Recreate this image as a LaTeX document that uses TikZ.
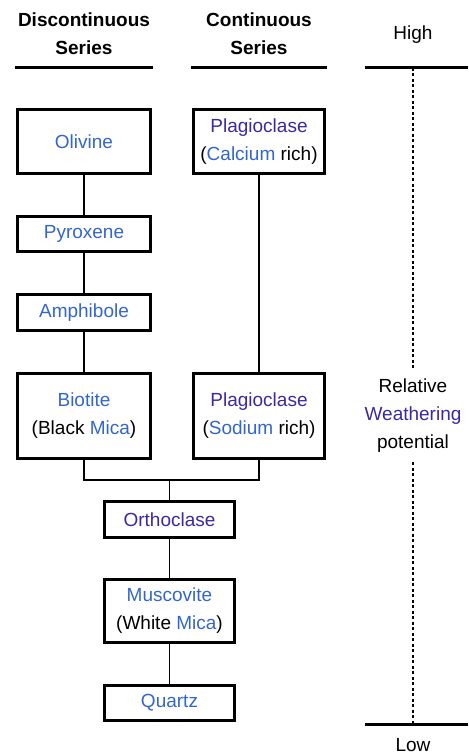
\documentclass[tikz,border=0pt]{standalone}
\usepackage{fontspec}
\setmainfont{Liberation Sans}
\usepackage{xcolor}
\usepackage{tikz}
\definecolor{minblue}{RGB}{51,102,204}
\definecolor{minpurple}{RGB}{60,40,160}
\newcommand{\lk}[1]{\textcolor{minblue}{#1}}
\newcommand{\vk}[1]{\textcolor{minpurple}{#1}}

\begin{document}
\begin{tikzpicture}[
  x=1pt, y=-1pt,
  every node/.style={font=\fontsize{19}{28}\selectfont},
  mineral/.style={draw, line width=3pt, align=center, inner sep=0pt},
  head/.style={font=\fontsize{19}{28}\selectfont\bfseries, align=center, inner sep=0pt},
  link/.style={line width=1.5pt},
  rule/.style={line width=3pt},
  scaleline/.style={line width=1.5pt, dash pattern=on 3pt off 2.5pt}
]
\useasboundingbox (0,0) rectangle (468,754);
\node[head] (discont) at (84,34) {Discontinuous\\Series};
\node[head] (cont) at (259,34) {Continuous\\Series};
\node[inner sep=0pt] (high) at (413,35) {High};
\draw[rule] (15,68) -- (153,68);
\draw[rule] (191,68) -- (327,68);
\draw[rule] (365,68) -- (468,68);
\draw[rule] (365,724) -- (468,724);
\node[mineral, minimum width=133pt, minimum height=64pt] (olivine) at (84,141.5) {\lk{Olivine}};
\node[mineral, minimum width=133pt, minimum height=35pt] (pyroxene) at (84,234) {\lk{Pyroxene}};
\node[mineral, minimum width=133pt, minimum height=36pt] (amphibole) at (84,312.5) {\lk{Amphibole}};
\node[mineral, minimum width=133pt, minimum height=85pt] (biotite) at (84,416) {\lk{Biotite}\\(Black \lk{Mica})};
\node[mineral, minimum width=131pt, minimum height=64pt] (plagca) at (259,141.5) {\vk{Plagioclase}\\(\lk{Calcium} rich)};
\node[mineral, minimum width=131pt, minimum height=85pt] (plagna) at (259,416) {\vk{Plagioclase}\\(\lk{Sodium} rich)};
\node[mineral, minimum width=130pt, minimum height=36pt] (orthoclase) at (169.5,519.5) {\vk{Orthoclase}};
\node[mineral, minimum width=130pt, minimum height=63pt] (muscovite) at (169.5,611) {\lk{Muscovite}\\(White \lk{Mica})};
\node[mineral, minimum width=130pt, minimum height=35pt] (quartz) at (169.5,703) {\lk{Quartz}};
\coordinate (merge) at (169.5,480);
\draw[link] (olivine) -- (pyroxene);
\draw[link] (pyroxene) -- (amphibole);
\draw[link] (amphibole) -- (biotite);
\draw[link] (plagca) -- (plagna);
\draw[link] (biotite.south) |- (merge) -| (plagna.south);
\draw[link] (merge) -- (orthoclase);
\draw[link] (orthoclase) -- (muscovite);
\draw[link] (muscovite) -- (quartz);
% weathering scale
\coordinate (hightick) at (413,68);
\coordinate (lowtick) at (413,724);
\node[align=center, inner xsep=0pt, inner ysep=9pt] (weather) at (413,416) {Relative\\\vk{Weathering}\\potential};
\draw[scaleline] (hightick) -- (weather);
\draw[scaleline] (weather) -- (lowtick);
\node[inner sep=0pt] (low) at (413,745) {Low};
\end{tikzpicture}
\end{document}
